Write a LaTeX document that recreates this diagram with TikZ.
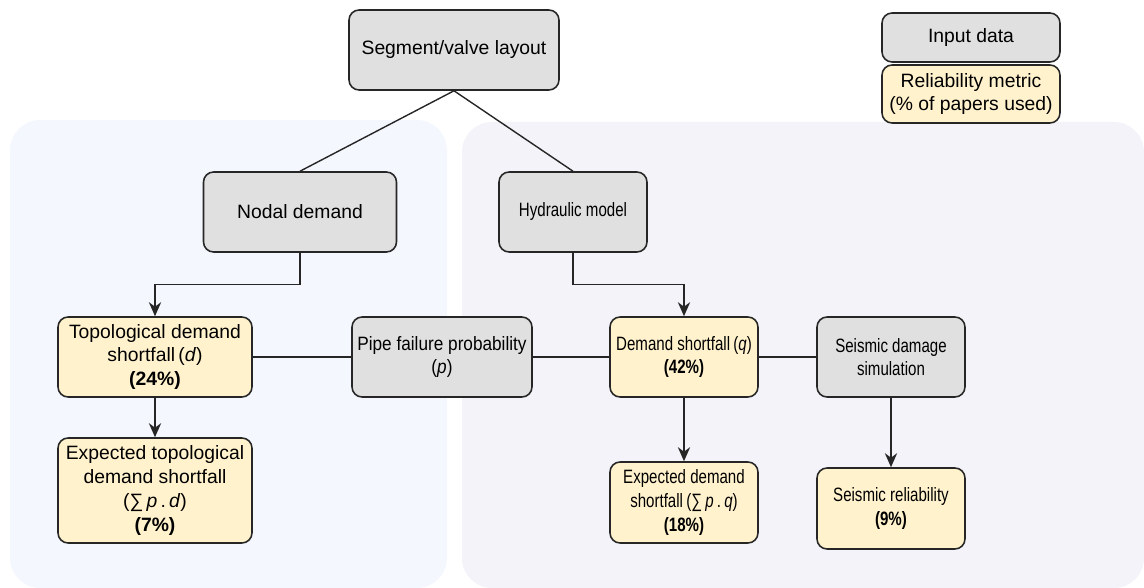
\documentclass[tikz,border=0pt]{standalone}
\usepackage{fontspec}
\setmainfont{Liberation Sans}
\newfontfamily\narrowsans[FakeStretch=0.78]{Liberation Sans}
\newfontfamily\semisans[FakeStretch=0.89]{Liberation Sans}
\usetikzlibrary{arrows.meta}

\definecolor{inputgray}{HTML}{E0E0E0}
\definecolor{metricyellow}{HTML}{FFF2CC}
\definecolor{leftpanel}{HTML}{F4F7FD}
\definecolor{rightpanel}{HTML}{F3F3F9}

\tikzstyle{input} = [draw=black!85, fill=inputgray, rounded corners=.2cm,
    line width=.9pt, align=center, inner sep=2pt]
\tikzstyle{metric} = [draw=black!85, fill=metricyellow, rounded corners=.2cm,
    line width=.9pt, align=center, inner sep=2pt]
\tikzstyle{narrow} = [font=\fontsize{11}{13.5}\narrowsans]
\tikzstyle{link} = [line width=.8pt, black!85]
\tikzstyle{flow} = [link, -{Stealth[length=8pt, width=7pt]}]

\begin{document}
\begin{tikzpicture}[x=0.02cm, y=-0.02cm, font=\fontsize{11}{13.5}\selectfont]
  \useasboundingbox (0,0) rectangle (1144,588);
  % panels
  \fill [leftpanel, rounded corners=.6cm] (10,120) rectangle (447,588);
  \fill [rightpanel, rounded corners=.6cm] (462,122) rectangle (1144,588);

  % legend
  \node (leginput) [input, minimum width=3.56cm, minimum height=.98cm] at (971,37.5) {Input data};
  \node (legmetric) [metric, minimum width=3.56cm, minimum height=1.16cm] at (971,94) {Reliability metric\\(\% of papers used)};

  % inputs
  \node (seg) [input, minimum width=4.2cm, minimum height=1.6cm] at (454,50) {Segment/valve layout};
  \node (nodal) [input, minimum width=3.86cm, minimum height=1.6cm] at (300,212) {Nodal demand};
  \node (hyd) [input, narrow, minimum width=2.96cm, minimum height=1.6cm] at (573,212) {Hydraulic model};
  \node (pipe) [input, font=\fontsize{11}{13.5}\semisans, minimum width=3.6cm, minimum height=1.6cm] at (442,357) {Pipe failure probability\\(\textit{p})};
  \node (seisdam) [input, narrow, minimum width=2.96cm, minimum height=1.6cm] at (891,357) {Seismic damage\\simulation};

  % metrics
  \node (topo) [metric, minimum width=3.88cm, minimum height=1.6cm] at (155,357) {Topological demand\\shortfall\,(\textit{d})\\\textbf{(24\%)}};
  \node (exptopo) [metric, minimum width=3.88cm, minimum height=2.1cm] at (155,490.5) {Expected topological\\demand shortfall\\(∑\,\textit{p}\,.\,\textit{d})\\\textbf{(7\%)}};
  \node (dem) [metric, narrow, minimum width=2.96cm, minimum height=1.6cm] at (684,357) {Demand shortfall\,(\textit{q})\\\textbf{(42\%)}};
  \node (expdem) [metric, narrow, minimum width=2.96cm, minimum height=1.62cm] at (684,502.5) {Expected demand\\shortfall\,(∑\,\textit{p}\,.\,\textit{q})\\\textbf{(18\%)}};
  \node (seisrel) [metric, narrow, minimum width=2.96cm, minimum height=1.62cm] at (891,508.5) {Seismic reliability\\\textbf{(9\%)}};

  % connectors
  \draw [link] (seg.south) -- (nodal.north);
  \draw [link] (seg.south) -- (hyd.north);
  \draw [flow] (nodal.south) -- ++(0,32) -| (topo.north);
  \draw [flow] (hyd.south) -- ++(0,32) -| (dem.north);
  \draw [link] (topo) -- (pipe);
  \draw [link] (pipe) -- (dem);
  \draw [link] (dem) -- (seisdam);
  \draw [flow] (topo) -- (exptopo);
  \draw [flow] (dem) -- (expdem);
  \draw [flow] (seisdam) -- (seisrel);
\end{tikzpicture}
\end{document}
